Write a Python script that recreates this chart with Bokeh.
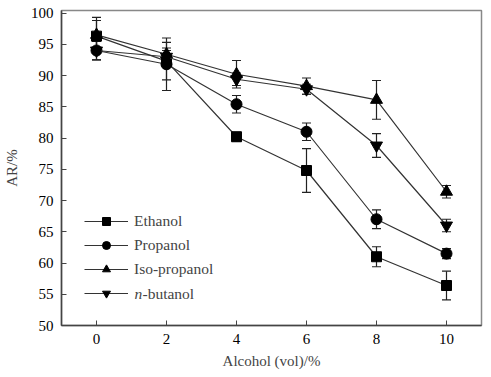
from bokeh.plotting import figure
from bokeh.models import ColumnDataSource, Whisker, TeeHead, Legend, LegendItem, Range1d, FixedTicker, Label
from bokeh.embed import file_html
from bokeh.resources import INLINE

x = [0, 2, 4, 6, 8, 10]
ethanol = [96.3, 92.3, 80.2, 74.8, 61.0, 56.4]
ethanol_err = [2.5, 3.0, 0.7, 3.5, 1.6, 2.3]
propanol = [94.0, 91.8, 85.4, 81.0, 67.0, 61.5]
propanol_err = [1.5, 4.2, 1.4, 1.4, 1.5, 0.8]
isopropanol = [96.5, 93.4, 90.2, 88.3, 86.1, 71.4]
isopropanol_err = [2.8, 1.0, 2.2, 1.3, 3.1, 1.0]
butanol = [94.0, 93.0, 89.4, 87.8, 78.8, 66.0]
butanol_err = [1.5, 1.0, 1.0, 0.8, 1.9, 1.0]

x_ticks = [0, 2, 4, 6, 8, 10]
y_ticks = [50, 55, 60, 65, 70, 75, 80, 85, 90, 95, 100]

FONT = "Liberation Serif"

p = figure(width=491, height=377, output_backend="svg", toolbar_location=None,
           x_range=Range1d(-1, 11), y_range=Range1d(50, 100.4),
           min_border_left=52, min_border_right=10, min_border_top=10, min_border_bottom=52)
p.grid.visible = False
p.outline_line_color = "#888888"
p.outline_line_width = 1.5
p.background_fill_color = "white"

series = [
    ("Ethanol", ethanol, ethanol_err, "square", 10),
    ("Propanol", propanol, propanol_err, "circle", 11),
    ("Iso-propanol", isopropanol, isopropanol_err, "triangle", 12),
    ("", butanol, butanol_err, "inverted_triangle", 12),
]

items = []
for name, ys, errs, marker, size in series:
    src = ColumnDataSource(dict(x=x, y=ys,
                                upper=[a + b for a, b in zip(ys, errs)],
                                lower=[a - b for a, b in zip(ys, errs)]))
    w = Whisker(source=src, base="x", upper="upper", lower="lower",
                line_color="#222222", line_width=1.2,
                upper_head=TeeHead(size=9, line_color="#222222", line_width=1.2),
                lower_head=TeeHead(size=9, line_color="#222222", line_width=1.2))
    p.add_layout(w)
    r1 = p.line("x", "y", source=src, line_color="#333333", line_width=1.2)
    r2 = p.scatter("x", "y", source=src, marker=marker, size=size,
                   fill_color="black", line_color="black")
    items.append(LegendItem(label=name, renderers=[r1, r2]))

legend = Legend(items=items, location=(23, 22), orientation="vertical",
                border_line_color=None, background_fill_alpha=0,
                label_text_font=FONT, label_text_font_size="15.5px",
                glyph_width=44, glyph_height=20, spacing=4, padding=0,
                label_standoff=6, margin=0)
p.add_layout(legend, "center")

for ax in (p.xaxis, p.yaxis):
    ax.major_label_text_font = FONT
    ax.major_label_text_font_size = "15px"
    ax.major_label_text_color = "black"
    ax.axis_label_text_font = FONT
    ax.axis_label_text_font_size = "15px"
    ax.axis_label_text_font_style = "normal"
    ax.axis_line_color = "#444444"
    ax.axis_line_width = 1.5
    ax.major_tick_line_color = "#444444"
    ax.major_tick_in = 5
    ax.major_tick_out = 0
    ax.minor_tick_line_color = None

p.xaxis.ticker = FixedTicker(ticks=x_ticks)
p.yaxis.ticker = FixedTicker(ticks=y_ticks)
p.xaxis.axis_label = "Alcohol (vol)/%"
p.yaxis.axis_label = "AR/%"
p.xaxis.major_label_standoff = 8
p.yaxis.major_label_standoff = 8
p.xaxis.axis_label_standoff = 6
p.yaxis.axis_label_standoff = 8

p.add_layout(Label(x=73, y=32, x_units="screen", y_units="screen", text="n",
                   text_font=FONT, text_font_size="15.5px", text_font_style="italic",
                   text_baseline="middle"))
p.add_layout(Label(x=81, y=32, x_units="screen", y_units="screen", text="-butanol",
                   text_font=FONT, text_font_size="15.5px",
                   text_baseline="middle"))

open("out.html", "w").write(file_html(p, INLINE))
